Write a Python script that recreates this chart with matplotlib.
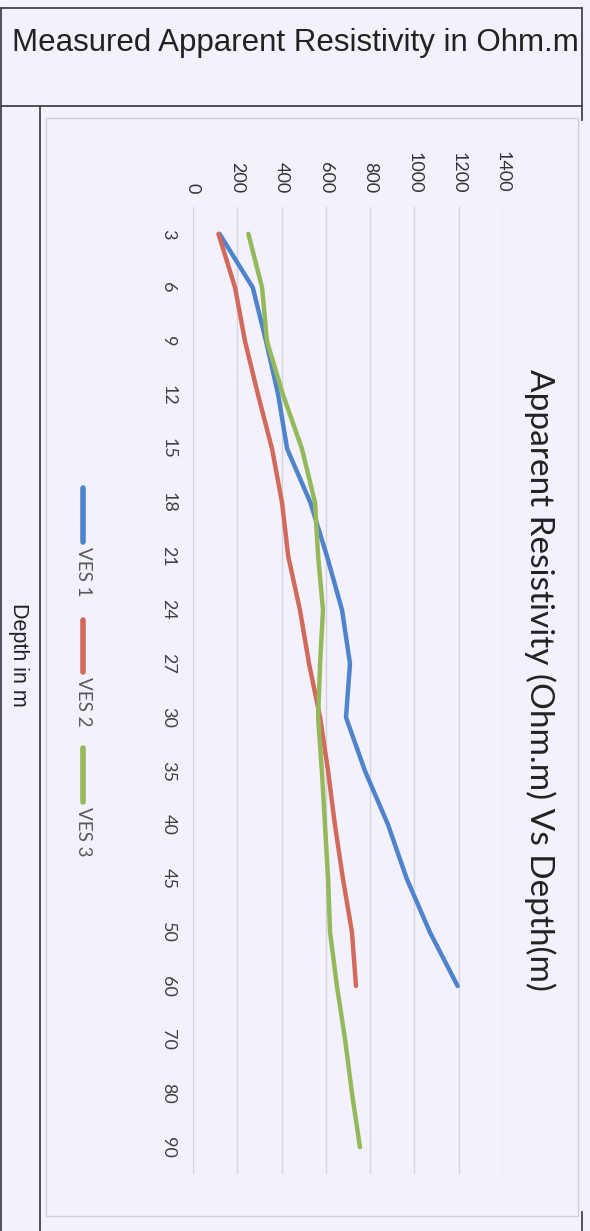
import matplotlib
matplotlib.use('Agg')
import matplotlib.pyplot as plt
from matplotlib.lines import Line2D
from matplotlib.patches import Rectangle

# data (values in Ohm.m, depth in m)
depth = ['3', '6', '9', '12', '15', '18', '21', '24', '27', '30', '35', '40', '45', '50', '60', '70', '80', '90']
ves1 = [120, 270, 330, 385, 425, 530, 605, 673, 709, 691, 777, 881, 965, 1070, 1195]
ves2 = [115, 190, 235, 294, 357, 402, 430, 483, 524, 574, 610, 641, 677, 718, 736]
ves3 = [250, 312, 334, 407, 492, 551, 565, 587, 574, 565, 582, 596, 610, 619, 650, 687, 718, 754]
value_ticks = [0, 200, 400, 600, 800, 1000, 1200, 1400]

series = [('VES 1', ves1, '#4f83cc'), ('VES 2', ves2, '#d26a5c'), ('VES 3', ves3, '#94b85a')]

W, H = 590, 1231
bg = '#f3f1fb'

def fx(x):
    return x / W

def fy(y):
    return 1 - y / H

fig = plt.figure(figsize=(W / 100, H / 100), dpi=100, facecolor=bg)

# table frame of the scanned page
frame = '#454548'
for (x0, y0, x1, y1) in [(1, 8, 582, 8), (1, 106, 582, 106), (1, 8, 1, 1231),
                         (40, 106, 40, 1231), (582, 8, 582, 120), (582, 1212, 582, 1231)]:
    fig.add_artist(Line2D([fx(x0), fx(x1)], [fy(y0), fy(y1)], color=frame, lw=1.3))

fig.text(fx(295), fy(43), 'Measured Apparent Resistivity in Ohm.m', ha='center', va='center',
         fontsize=22.5, family='Liberation Sans', color='#222222')
fig.text(fx(18), fy(655), 'Depth in m', ha='center', va='center', rotation=-90,
         fontsize=15.5, family='Liberation Sans', color='#222222')

# chart area border
fig.add_artist(Rectangle((fx(46), fy(1216)), fx(578) - fx(46), fy(118) - fy(1216),
                         transform=fig.transFigure, fill=False, ec='#cfcfd8', lw=1))

ax = fig.add_axes([fx(193), fy(1174), fx(503) - fx(193), fy(207) - fy(1174)])
ax.set_facecolor(bg)
idx = list(range(len(depth)))
for name, vals, col in series:
    ax.plot(vals, idx[:len(vals)], color=col, lw=3.2, solid_capstyle='round')

ax.set_xlim(0, 1400)
ax.set_ylim(len(depth) - 0.5, -0.5)
ax.set_xticks(value_ticks)
ax.set_xticklabels([str(v) for v in value_ticks], rotation=-90, fontsize=13,
                   family='Lato', color='#333333')
ax.xaxis.tick_top()
ax.set_yticks(idx)
ax.set_yticklabels(depth, rotation=-90, fontsize=13, family='Lato', color='#404040', va='center')
ax.tick_params(length=0)
ax.tick_params(axis='x', pad=10)
ax.tick_params(axis='y', pad=12)
ax.grid(axis='x', color='#d4d4dc', lw=1)
ax.set_axisbelow(True)
for s in ax.spines.values():
    s.set_visible(False)

fig.text(fx(540), fy(680), 'Apparent Resistivity (Ohm.m) Vs Depth(m)', ha='center', va='center',
         rotation=-90, fontsize=24, family='Lato', color='#222222')

# legend, stacked vertically like the rotated original
leg_pos = [(488, 542), (620, 672), (748, 802)]
for (name, vals, col), (y0, y1) in zip(series, leg_pos):
    fig.add_artist(Line2D([fx(83), fx(83)], [fy(y0), fy(y1)], color=col, lw=4, solid_capstyle='round'))
    fig.text(fx(83), fy(y1 + 5), name, ha='center', va='top', rotation=-90,
             fontsize=13.5, family='Lato', color='#595959')

fig.savefig('out.png', dpi=100, facecolor=bg)
